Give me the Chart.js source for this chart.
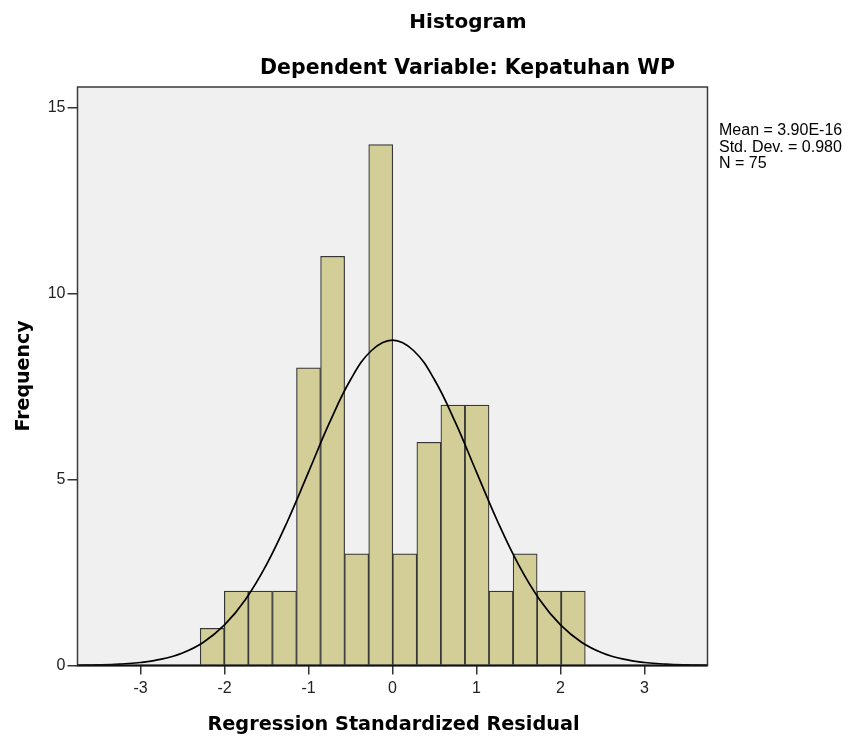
<!DOCTYPE html>
<html><head><meta charset="utf-8">
<script src="https://cdn.jsdelivr.net/npm/chart.js@4/dist/chart.umd.min.js"></script>
<style>html,body{margin:0;padding:0;background:#fff}#wrap{width:850px;height:740px;position:relative}</style>
</head><body><div id="wrap"><canvas id="c" width="850" height="740"></canvas></div>
<script>
// ---- data ----
const binCenters = [-2.146,-1.859,-1.573,-1.286,-1.000,-0.713,-0.427,-0.140,0.146,0.433,0.719,1.006,1.292,1.579,1.865,2.152];
const frequencies = [1,2,2,2,8,11,3,14,3,6,7,7,2,3,2,2];
const curveX = [-3.75,-3.5,-3.25,-3,-2.75,-2.5,-2.25,-2,-1.75,-1.5,-1.25,-1,-0.75,-0.5,-0.25,0,0.25,0.5,0.75,1,1.25,1.5,1.75,2,2.25,2.5,2.75,3,3.25,3.5,3.75];
const curveY = [0.006,0.015,0.036,0.081,0.171,0.338,0.627,1.090,1.776,2.711,3.878,5.197,6.526,7.680,8.467,8.747,8.467,7.680,6.526,5.197,3.878,2.711,1.776,1.090,0.627,0.338,0.171,0.081,0.036,0.015,0.006];
const xTicks = [-3,-2,-1,0,1,2,3];
const yTicks = [0,5,10,15];
const titleText = 'Histogram';
const subtitleText = 'Dependent Variable: Kepatuhan WP';
const xTitle = 'Regression Standardized Residual';
const yTitle = 'Frequency';
const statsLines = ['Mean = 3.90E-16','Std. Dev. = 0.980','N = 75'];

const decor = {
  id: 'decor',
  beforeDraw(chart) {
    const {ctx, chartArea: a} = chart;
    ctx.save();
    ctx.fillStyle = '#F0F0F0';
    ctx.fillRect(a.left, a.top, a.right - a.left, a.bottom - a.top);
    ctx.restore();
  },
  afterDraw(chart) {
    const {ctx, chartArea: a} = chart;
    ctx.save();
    ctx.strokeStyle = '#3a3a3a';
    ctx.lineWidth = 1.5;
    ctx.strokeRect(a.left, a.top, a.right - a.left, a.bottom - a.top);
    ctx.strokeStyle = '#111';
    ctx.lineWidth = 2;
    ctx.beginPath(); ctx.moveTo(a.left, a.bottom); ctx.lineTo(a.right, a.bottom); ctx.stroke();

    ctx.fillStyle = '#000';
    ctx.textAlign = 'center';
    ctx.textBaseline = 'alphabetic';
    ctx.font = 'bold 20px "DejaVu Sans"';
    ctx.fillText(titleText, 468, 28);
    ctx.font = 'bold 20.5px "DejaVu Sans"';
    ctx.fillText(subtitleText, 467.5, 74);
    ctx.font = 'bold 19.3px "DejaVu Sans"';
    ctx.fillText(xTitle, 393.5, 730);
    ctx.font = 'bold 19px "DejaVu Sans"';
    ctx.save();
    ctx.translate(29, 376);
    ctx.rotate(-Math.PI / 2);
    ctx.fillText(yTitle, 0, 0);
    ctx.restore();

    ctx.textAlign = 'left';
    ctx.font = '16px "Liberation Sans", Arial';
    statsLines.forEach((s, i) => ctx.fillText(s, 719, 135 + i * 16.6));
    ctx.restore();
  }
};

new Chart(document.getElementById('c'), {
  type: 'bar',
  data: {
    datasets: [
      {
        type: 'line',
        data: curveX.map((x, i) => ({x, y: curveY[i]})),
        borderColor: '#000',
        borderWidth: 1.7,
        pointRadius: 0,
        tension: 0.4,
        fill: false,
        order: 0
      },
      {
        type: 'bar',
        data: binCenters.map((x, i) => ({x, y: frequencies[i]})),
        backgroundColor: '#D3CE97',
        borderColor: '#363636',
        borderWidth: 1.2,
        barPercentage: 1,
        categoryPercentage: 1,
        order: 1
      }
    ]
  },
  options: {
    responsive: false,
    devicePixelRatio: 1,
    animation: false,
    layout: {padding: {top: 87, right: 142.5, left: 0, bottom: 0}},
    plugins: {legend: {display: false}, tooltip: {enabled: false}, title: {display: false}},
    scales: {
      x: {
        type: 'linear',
        min: -3.75, max: 3.75,
        offset: false,
        afterBuildTicks: s => { s.ticks = xTicks.map(v => ({value: v})); },
        afterFit: s => { s.height = 74.5; },
        grid: {offset: false, drawOnChartArea: false, drawTicks: true, tickLength: 9, tickColor: '#333', lineWidth: 1.5},
        border: {display: false},
        ticks: {color: '#222', font: {family: '"Liberation Sans", Arial', size: 16}, padding: 4, maxRotation: 0, autoSkip: false}
      },
      y: {
        min: 0, max: 15.55,
        afterBuildTicks: s => { s.ticks = yTicks.map(v => ({value: v})); },
        afterFit: s => { s.width = 77.5; },
        grid: {drawOnChartArea: false, drawTicks: true, tickLength: 10, tickColor: '#333', lineWidth: 1.5},
        border: {display: false},
        ticks: {color: '#222', font: {family: '"Liberation Sans", Arial', size: 16}, padding: 2}
      }
    }
  },
  plugins: [decor]
});
</script>
</body></html>
